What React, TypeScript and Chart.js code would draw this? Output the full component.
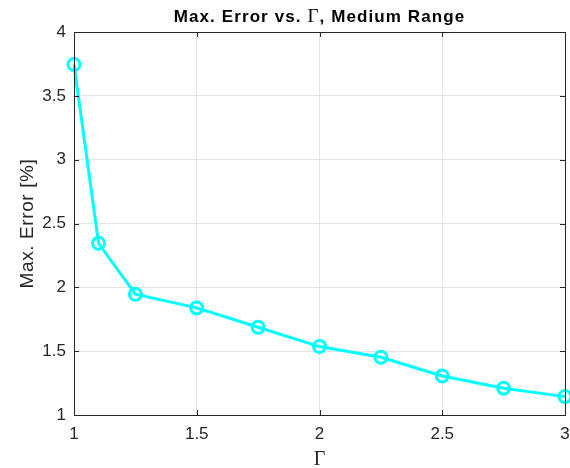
import React, { useEffect, useRef } from "react";
import { Chart, registerables } from "chart.js";

Chart.register(...registerables);

const gammaValues = [1, 1.1, 1.25, 1.5, 1.75, 2, 2.25, 2.5, 2.75, 3];
const maxErrorValues = [3.745, 2.345, 1.946, 1.839, 1.687, 1.536, 1.452, 1.306, 1.21, 1.144];
const xTicks = [1, 1.5, 2, 2.5, 3];
const yTicks = [1, 1.5, 2, 2.5, 3, 3.5, 4];

const AXIS = "#262626";
const FONT = "'Liberation Sans', Arial, sans-serif";
const SERIF = "'Liberation Serif', 'DejaVu Serif', serif";

const boxPlugin = {
  id: "matlabBox",
  afterDraw(chart: any) {
    const { ctx, chartArea: a, scales } = chart;
    ctx.save();
    ctx.strokeStyle = AXIS;
    ctx.lineWidth = 1;
    ctx.strokeRect(Math.round(a.left) + 0.5, Math.round(a.top) + 0.5, Math.round(a.right - a.left), Math.round(a.bottom - a.top));
    const L = 5;
    ctx.beginPath();
    for (const v of xTicks) {
      const px = Math.round(scales.x.getPixelForValue(v)) + 0.5;
      ctx.moveTo(px, a.bottom);
      ctx.lineTo(px, a.bottom - L);
      ctx.moveTo(px, a.top);
      ctx.lineTo(px, a.top + L);
    }
    for (const v of yTicks) {
      const py = Math.round(scales.y.getPixelForValue(v)) + 0.5;
      ctx.moveTo(a.left, py);
      ctx.lineTo(a.left + L, py);
      ctx.moveTo(a.right, py);
      ctx.lineTo(a.right - L, py);
    }
    ctx.stroke();

    // title with mixed fonts
    (ctx as any).letterSpacing = "1.1px";
    const parts = [
      { t: "Max. Error vs. ", f: `bold 17px ${FONT}` },
      { t: "Γ", f: `19px ${SERIF}` },
      { t: ", Medium Range", f: `bold 17px ${FONT}` },
    ];
    let total = 0;
    for (const p of parts) {
      ctx.font = p.f;
      total += ctx.measureText(p.t).width;
    }
    let x = (a.left + a.right) / 2 - total / 2;
    ctx.fillStyle = "#000";
    ctx.textBaseline = "alphabetic";
    ctx.textAlign = "left";
    for (const p of parts) {
      ctx.font = p.f;
      ctx.fillText(p.t, x, 22);
      x += ctx.measureText(p.t).width;
    }
    (ctx as any).letterSpacing = "0px";

    // x label
    ctx.fillStyle = AXIS;
    ctx.font = `20px ${SERIF}`;
    ctx.textAlign = "center";
    ctx.fillText("Γ", (a.left + a.right) / 2, 465);

    // y label
    ctx.save();
    ctx.translate(33, (a.top + a.bottom) / 2);
    ctx.rotate(-Math.PI / 2);
    (ctx as any).letterSpacing = "0.6px";
    ctx.font = `19px ${FONT}`;
    ctx.textAlign = "center";
    ctx.fillText("Max. Error [%]", 0, 0);
    ctx.restore();
    ctx.restore();
  },
};

export default function App() {
  const ref = useRef<HTMLCanvasElement>(null);
  useEffect(() => {
    const chart = new Chart(ref.current!, {
      type: "line",
      data: {
        datasets: [
          {
            data: gammaValues.map((g, i) => ({ x: g, y: maxErrorValues[i] })),
            borderColor: "#00FFFF",
            borderWidth: 3,
            pointRadius: 6,
            pointBorderWidth: 3,
            pointBackgroundColor: "rgba(0,0,0,0)",
            pointBorderColor: "#00FFFF",
            tension: 0,
            clip: false as any,
          },
        ],
      },
      options: {
        animation: false,
        responsive: false,
        layout: { autoPadding: false, padding: { top: 32, right: 5, left: 0, bottom: 0 } },
        plugins: { legend: { display: false }, title: { display: false }, tooltip: { enabled: false } },
        scales: {
          x: {
            type: "linear",
            min: 1,
            max: 3,
            afterBuildTicks: (s: any) => { s.ticks = xTicks.map((v) => ({ value: v })); },
            afterFit: (s: any) => { s.height = 53; s.paddingLeft = 0; s.paddingRight = 0; },
            grid: { color: "#e3e3e3", drawTicks: false },
            border: { display: false },
            ticks: { color: AXIS, font: { family: FONT, size: 17 }, padding: 9, maxRotation: 0, callback: (v: any) => String(v) },
          },
          y: {
            type: "linear",
            min: 1,
            max: 4,
            afterBuildTicks: (s: any) => { s.ticks = yTicks.map((v) => ({ value: v })); },
            afterFit: (s: any) => { s.width = 74; s.paddingTop = 0; s.paddingBottom = 0; },
            grid: { color: "#e3e3e3", drawTicks: false },
            border: { display: false },
            ticks: { color: AXIS, font: { family: FONT, size: 17 }, padding: 8, callback: (v: any) => String(v) },
          },
        },
      },
      plugins: [boxPlugin],
    });
    return () => chart.destroy();
  }, []);
  return (
    <div style={{ position: "absolute", left: 0, top: 0, width: 570, height: 468, background: "#fff" }}>
      <canvas ref={ref} width={570} height={468} style={{ width: 570, height: 468 }} />
    </div>
  );
}
